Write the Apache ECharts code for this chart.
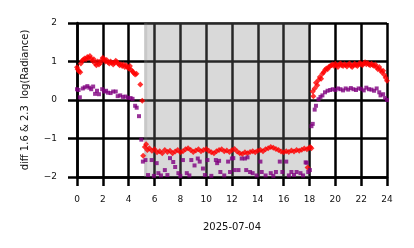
<!DOCTYPE html>
<html>
<head>
<meta charset="utf-8">
<script src="https://cdn.jsdelivr.net/npm/echarts@6/dist/echarts.min.js"></script>
<style>html,body{margin:0;padding:0;background:#fff}#c{width:414px;height:248px}</style>
</head>
<body>
<div id="c"></div>
<script>
const xTicks = [0,2,4,6,8,10,12,14,16,18,20,22,24];
const yTicks = [-2,-1,0,1,2];
const dateLabel = '2025-07-04';
const yLabel = 'diff 1.6 & 2.3  log(Radiance)';
const shadeSpans = [[5.2, 18.0], [5.2, 5.44]];

const redHours = [
0.0,0.05,0.15,0.25,0.3,0.4,0.5,0.6,0.7,0.8,0.9,1.0,1.1,1.2,1.3,1.4,1.5,1.6,1.7,1.8,1.9,2.0,2.1,2.2,2.3,2.4,2.5,2.6,2.7,2.8,2.9,3.0,3.1,3.2,3.3,3.4,3.5,3.6,3.7,3.8,3.9,4.0,4.1,4.2,4.3,4.4,4.5,4.6,4.9,5.05,
5.12,5.25,5.35,5.45,5.6,5.8,6.0,6.2,6.4,6.6,6.8,7.0,7.2,7.4,7.6,7.8,8.0,8.2,8.4,8.6,8.8,9.0,9.2,9.4,9.6,9.8,10.0,10.2,10.4,10.6,10.8,11.0,11.2,11.4,11.6,11.8,12.0,12.2,12.4,12.6,12.8,13.0,13.2,13.4,13.6,13.8,14.0,14.2,14.4,14.6,14.8,15.0,15.2,15.4,15.6,15.8,16.0,16.2,16.4,16.6,16.8,17.0,17.2,17.4,17.6,17.8,17.85,17.95,18.05,18.15,
18.25,18.3,18.4,18.5,18.6,18.7,18.8,18.9,19.0,19.1,19.2,19.3,19.4,19.5,19.6,19.7,19.8,19.9,20.0,20.1,20.2,20.3,20.4,20.5,20.6,20.7,20.8,20.9,21.0,21.1,21.2,21.3,21.4,21.5,21.6,21.7,21.8,21.9,22.0,22.1,22.2,22.3,22.4,22.5,22.6,22.7,22.8,22.9,23.0,23.1,23.2,23.3,23.4,23.5,23.6,23.7,23.8,23.9,24.0
];
const redValues = [
0.85,0.80,0.75,0.72,0.95,1.02,1.05,1.08,1.06,1.12,1.10,1.14,1.08,1.02,1.06,0.95,0.90,1.00,0.92,0.96,1.04,1.10,1.06,1.00,1.04,0.98,0.95,1.00,0.97,0.92,0.96,1.02,0.98,0.94,0.90,0.93,0.88,0.92,0.86,0.90,0.85,0.82,0.88,0.78,0.74,0.70,0.66,0.68,0.40,-0.02,
-1.45,-1.22,-1.15,-1.30,-1.25,-1.32,-1.28,-1.36,-1.33,-1.38,-1.30,-1.35,-1.32,-1.38,-1.34,-1.30,-1.36,-1.33,-1.28,-1.25,-1.30,-1.35,-1.31,-1.28,-1.33,-1.30,-1.27,-1.32,-1.36,-1.38,-1.33,-1.30,-1.28,-1.33,-1.31,-1.35,-1.30,-1.27,-1.34,-1.38,-1.40,-1.36,-1.38,-1.35,-1.33,-1.36,-1.32,-1.30,-1.33,-1.28,-1.25,-1.22,-1.24,-1.27,-1.30,-1.34,-1.36,-1.33,-1.35,-1.31,-1.34,-1.30,-1.32,-1.29,-1.26,-1.28,-1.75,-1.25,-1.22,-1.25,
0.22,0.10,0.30,0.45,0.38,0.52,0.60,0.55,0.68,0.72,0.78,0.82,0.80,0.86,0.88,0.90,0.92,0.88,0.94,0.90,0.86,0.92,0.95,0.90,0.88,0.93,0.91,0.87,0.92,0.95,0.89,0.86,0.90,0.94,0.91,0.88,0.92,0.96,0.93,0.90,0.95,0.98,0.93,0.96,0.92,0.90,0.94,0.91,0.88,0.92,0.85,0.80,0.86,0.78,0.72,0.76,0.65,0.58,0.50
];

const purpleHours = [
0.0,0.12,0.22,0.45,0.6,0.8,0.95,1.1,1.25,1.4,1.55,1.7,1.95,2.1,2.25,2.4,2.6,2.8,3.0,3.15,3.35,3.55,3.75,3.95,4.15,4.3,4.5,4.62,4.8,4.98,5.1,
5.3,5.5,5.78,5.95,6.17,6.3,6.5,6.8,7.0,7.2,7.45,7.6,7.85,8.0,8.2,8.5,8.7,8.85,9.1,9.35,9.5,9.75,9.9,10.1,10.4,10.75,10.85,11.0,11.1,11.4,11.7,11.85,11.99,12.1,12.2,12.5,12.75,13.0,13.1,13.2,13.4,13.6,13.9,14.2,14.3,14.6,15.0,15.2,15.4,15.7,15.9,16.2,16.4,16.6,16.8,17.0,17.3,17.5,17.7,17.78,17.9,18.03,
18.15,18.25,18.4,18.5,18.7,18.85,19.0,19.2,19.4,19.6,19.8,20.0,20.2,20.4,20.6,20.8,21.0,21.2,21.4,21.6,21.8,22.0,22.2,22.4,22.6,22.8,23.0,23.2,23.4,23.5,23.7,23.85,24.0
];
const purpleValues = [
0.28,0.26,0.07,0.30,0.33,0.36,0.32,0.28,0.35,0.16,0.24,0.15,0.28,0.22,0.24,0.19,0.18,0.22,0.22,0.10,0.12,0.08,0.09,0.06,0.05,0.03,-0.15,-0.20,-0.42,-1.03,-1.60,
-1.56,-1.95,-1.56,-1.97,-1.64,-1.90,-1.96,-1.82,-1.95,-1.51,-1.61,-1.74,-1.90,-1.97,-1.56,-1.90,-1.96,-1.56,-1.70,-1.52,-1.60,-1.78,-1.95,-1.56,-1.97,-1.56,-1.64,-1.58,-1.87,-1.96,-1.60,-1.87,-1.52,-1.51,-1.82,-1.82,-1.52,-1.52,-1.82,-1.49,-1.87,-1.90,-1.96,-1.60,-1.87,-1.96,-1.90,-1.97,-1.87,-1.60,-1.87,-1.60,-1.96,-1.87,-1.95,-1.87,-1.90,-1.96,-1.62,-1.63,-1.87,-1.82,
-0.68,-0.62,-0.25,-0.15,0.02,0.08,0.12,0.20,0.24,0.26,0.28,0.26,0.30,0.28,0.25,0.30,0.27,0.31,0.28,0.26,0.30,0.29,0.25,0.32,0.28,0.27,0.24,0.30,0.20,0.12,0.15,0.05,0.00
];

const redData = redHours.map((h, i) => [h, redValues[i]]);
const purpleData = purpleHours.map((h, i) => [h, purpleValues[i]]);

const font = 'DejaVu Sans';
function bl() { return { color: '#000000', width: 2.5, type: 'solid', opacity: 1 }; }
const chart = echarts.init(document.getElementById('c'), null, { renderer: 'canvas' });
chart.setOption({
  animation: false,
  grid: { left: 77, right: 27, top: 23, bottom: 71, containLabel: false },
  xAxis: {
    type: 'value', min: xTicks[0], max: xTicks[xTicks.length - 1], interval: 2,
    name: dateLabel, nameLocation: 'middle', nameGap: 45,
    nameTextStyle: { fontFamily: font, fontSize: 10, color: '#111' },
    axisLine: { show: true, onZero: false, lineStyle: bl() },
    axisTick: { show: true, length: 9, lineStyle: bl() },
    splitLine: { show: true, showMinLine: true, showMaxLine: true, lineStyle: bl() },
    axisLabel: { margin: 18, fontFamily: font, fontSize: 9, color: '#111' }
  },
  yAxis: {
    type: 'value', min: yTicks[0], max: yTicks[yTicks.length - 1], interval: 1,
    name: yLabel, nameLocation: 'middle', nameGap: 47, nameRotate: 90,
    nameTextStyle: { fontFamily: font, fontSize: 10, color: '#111' },
    axisLine: { show: true, onZero: false, lineStyle: bl() },
    axisTick: { show: true, length: 9, lineStyle: bl() },
    splitLine: { show: true, showMinLine: true, showMaxLine: true, lineStyle: bl() },
    axisLabel: { margin: 20, fontFamily: font, fontSize: 9, color: '#111',
      formatter: v => (v < 0 ? '\u2212' + Math.abs(v) : String(v)) }
  },
  series: [
    {
      type: 'scatter', name: 'red', z: 2, symbol: 'diamond', symbolSize: 6,
      itemStyle: { color: '#ff0000' }, data: redData
    },
    {
      type: 'scatter', name: 'purple', z: 2, symbol: 'rect', symbolSize: 4,
      itemStyle: { color: '#800080' }, data: purpleData
    },
    {
      type: 'scatter', name: 'shade', z: 5, data: [],
      markArea: {
        silent: true,
        data: [
          [{ xAxis: shadeSpans[0][0], itemStyle: { color: 'rgba(128,128,128,0.3)' } }, { xAxis: shadeSpans[0][1] }],
          [{ xAxis: shadeSpans[1][0], itemStyle: { color: 'rgba(128,128,128,0.18)' } }, { xAxis: shadeSpans[1][1] }]
        ]
      }
    }
  ]
});
</script>
</body>
</html>
